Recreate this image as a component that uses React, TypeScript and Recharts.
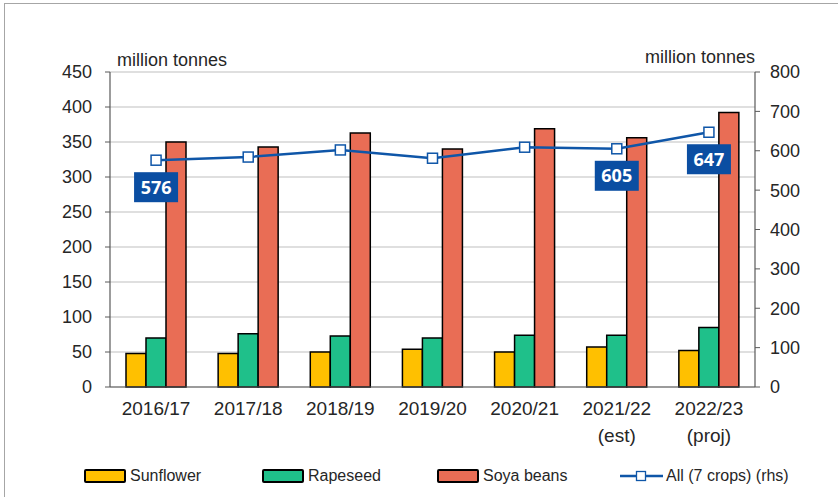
import React from "react";
import {
  ComposedChart,
  Bar,
  Line,
  XAxis,
  YAxis,
  CartesianGrid,
  LabelList,
} from "recharts";

const categories = ["2016/17", "2017/18", "2018/19", "2019/20", "2020/21", "2021/22\n(est)", "2022/23\n(proj)"];
const sunflower = [48, 48, 50, 54, 50, 57, 52];
const rapeseed = [70, 76, 73, 70, 74, 74, 85];
const soyaBeans = [350, 343, 363, 340, 369, 356, 392];
const allCrops = [576, 584, 602, 581, 609, 605, 647];
const labelledIdx = [0, 5, 6];
const leftTicks = [0, 50, 100, 150, 200, 250, 300, 350, 400, 450];
const rightTicks = [0, 100, 200, 300, 400, 500, 600, 700, 800];
const boundaryTicks = [1, 2, 3, 4, 5, 6];

const data = categories.map((c, i) => ({
  name: c,
  idx: i,
  sunflower: sunflower[i],
  rapeseed: rapeseed[i],
  soya: soyaBeans[i],
  all: allCrops[i],
}));

const FONT = "'Liberation Sans', Arial, sans-serif";
const TEXT = "#262626";
const BLUE = "#0F56A8";
const LABEL_BG = "#0B4EA2";

const XTick = (props: any) => {
  const { x, y, payload } = props;
  const lines = String(payload.value).split("\n");
  return (
    <g>
      {lines.map((l: string, i: number) => (
        <text key={i} x={x} y={y + 20 + i * 27} textAnchor="middle" fontSize={19} fontFamily={FONT} fill={TEXT}>
          {l}
        </text>
      ))}
    </g>
  );
};

const SquareDot = (props: any) => {
  const { cx, cy } = props;
  if (cx == null || cy == null) return null;
  return <rect x={cx - 5} y={cy - 5} width={10} height={10} fill="#fff" stroke={BLUE} strokeWidth={1.5} />;
};

const ValueLabel = (props: any) => {
  const { x, y, value, index } = props;
  if (!labelledIdx.includes(index)) return null;
  const w = 44;
  const h = 30;
  const cy = y + 27;
  return (
    <g>
      <rect x={x - w / 2} y={cy - h / 2} width={w} height={h} fill={LABEL_BG} />
      <text x={x} y={cy + 6.5} textAnchor="middle" fontSize={18} fontWeight="bold" fontFamily="'Open Sans', sans-serif" fill="#fff">
        {value}
      </text>
    </g>
  );
};

const legendItems = [
  { label: "Sunflower", color: "#FFC000", x: 84, type: "bar" },
  { label: "Rapeseed", color: "#1FC08A", x: 262, type: "bar" },
  { label: "Soya beans", color: "#E96D55", x: 437, type: "bar" },
  { label: "All (7 crops) (rhs)", color: BLUE, x: 620, type: "line" },
];

export default function App() {
  return (
    <div style={{ position: "absolute", left: 0, top: 0, width: 838, height: 497, background: "#fff", overflow: "hidden" }}>
      <div style={{ position: "absolute", left: 4, top: 3, width: 900, height: 600, borderLeft: "1px solid #a6a6a6", borderTop: "1px solid #a6a6a6" }} />
      <div style={{ position: "absolute", left: 117, top: 49, fontFamily: FONT, fontSize: 18, color: TEXT, lineHeight: "22px" }}>million tonnes</div>
      <div style={{ position: "absolute", right: 83, top: 46, fontFamily: FONT, fontSize: 18, color: TEXT, lineHeight: "22px" }}>million tonnes</div>
      <div style={{ position: "absolute", left: 0, top: 0 }}>
        <ComposedChart
          width={838}
          height={497}
          data={data}
          margin={{ top: 72, right: 23, left: 50, bottom: 50 }}
          barGap={0}
          barCategoryGap="17%"
        >
          <CartesianGrid vertical={false} stroke="#bfbfbf" strokeWidth={1.2} yAxisId="left" />
          <XAxis
            xAxisId="b"
            type="number"
            domain={[0, 7]}
            ticks={boundaryTicks}
            height={0}
            mirror
            axisLine={false}
            tickSize={6}
            tickLine={{ stroke: "#595959" }}
            tick={false}
          />
          <XAxis
            dataKey="name"
            xAxisId="cat"
            height={60}
            tick={<XTick />}
            tickLine={false}
            axisLine={{ stroke: "#595959", strokeWidth: 1.2 }}
            interval={0}
          />
          <YAxis
            yAxisId="left"
            domain={[0, 450]}
            ticks={leftTicks}
            width={60}
            tickSize={5}
            tickMargin={13}
            axisLine={{ stroke: "#595959", strokeWidth: 1.2 }}
            tickLine={{ stroke: "#595959" }}
            tick={{ fontSize: 18, fontFamily: FONT, fill: TEXT }}
          />
          <YAxis
            yAxisId="right"
            orientation="right"
            domain={[0, 800]}
            ticks={rightTicks}
            width={60}
            tickSize={5}
            tickMargin={10}
            axisLine={{ stroke: "#595959", strokeWidth: 1.2 }}
            tickLine={{ stroke: "#595959" }}
            tick={{ fontSize: 18, fontFamily: FONT, fill: TEXT, textAnchor: "start" }}
          />
          <Bar dataKey="sunflower" xAxisId="cat" yAxisId="left" fill="#FFC000" stroke="#000" strokeWidth={1.5} barSize={20} isAnimationActive={false} />
          <Bar dataKey="rapeseed" xAxisId="cat" yAxisId="left" fill="#1FC08A" stroke="#000" strokeWidth={1.5} barSize={20} isAnimationActive={false} />
          <Bar dataKey="soya" xAxisId="cat" yAxisId="left" fill="#E96D55" stroke="#000" strokeWidth={1.5} barSize={20} isAnimationActive={false} />
          <Line
            dataKey="all"
            xAxisId="cat"
            yAxisId="right"
            stroke={BLUE}
            strokeWidth={2.5}
            dot={<SquareDot />}
            activeDot={false}
            isAnimationActive={false}
          >
            <LabelList dataKey="all" content={<ValueLabel />} />
          </Line>
        </ComposedChart>
      </div>
      {legendItems.map((it) => (
        <div key={it.label} style={{ position: "absolute", left: it.x, top: 465, height: 22, display: "flex", alignItems: "center", fontFamily: FONT, fontSize: 16, color: TEXT }}>
          {it.type === "bar" ? (
            <div style={{ width: 38, height: 10, background: it.color, border: "2px solid #000", borderRadius: 2, marginRight: 4 }} />
          ) : (
            <svg width={43} height={12} style={{ marginRight: 3 }}>
              <line x1={0} y1={6} x2={43} y2={6} stroke={BLUE} strokeWidth={2.5} />
              <rect x={16.5} y={1.5} width={9} height={9} fill="#fff" stroke={BLUE} strokeWidth={1.3} />
            </svg>
          )}
          <span>{it.label}</span>
        </div>
      ))}
    </div>
  );
}
